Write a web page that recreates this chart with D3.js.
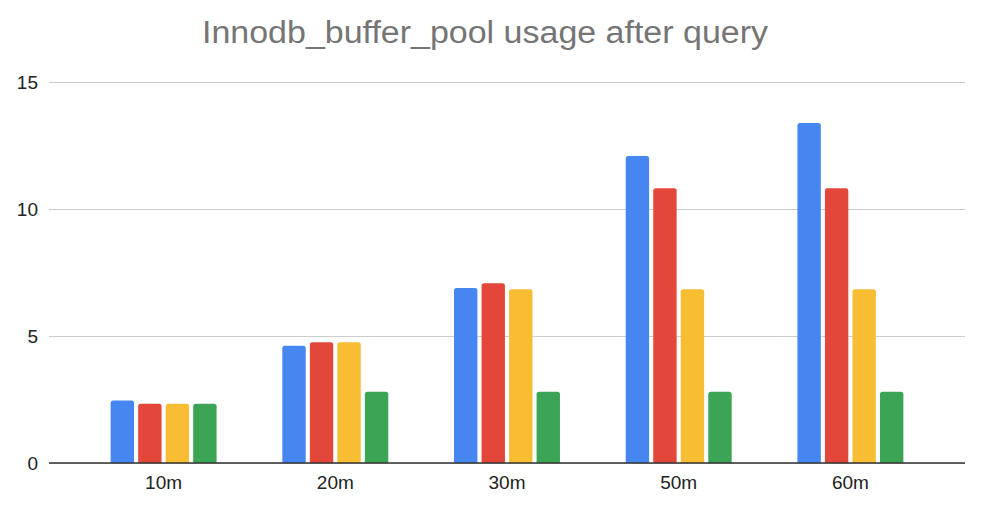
<!DOCTYPE html>
<html>
<head>
<style>
html, body {
    margin: 0;
    padding: 0;
    background: #fff;
    overflow: hidden;
}
text {
    font-family: Arial, "Liberation Sans", sans-serif;
}
</style>
</head>
<body>
<script src="https://cdn.jsdelivr.net/npm/d3@7"></script>
<script>
const width = 985, height = 525;

const categories = ["10m", "20m", "30m", "50m", "60m"];
const seriesNames = ["s1", "s2", "s3", "s4"];
const s1 = [2.46, 4.62, 6.89, 12.09, 13.39];
const s2 = [2.33, 4.75, 7.08, 10.82, 10.82];
const s3 = [2.33, 4.75, 6.84, 6.84, 6.84];
const s4 = [2.33, 2.81, 2.81, 2.81, 2.81];
const colors = ["#4586f0", "#e2473a", "#f7bd33", "#3ca555"];
const yTicks = [0, 5, 10, 15];

const series = [s1, s2, s3, s4];
const rows = categories.map((c, i) => ({
    cat: c,
    vals: series.map((s, j) => ({ key: seriesNames[j], value: s[i], color: colors[j] }))
}));

const margin = { left: 49, right: 20, top: 82, bottom: 62 };

const svg = d3.select("body").append("svg")
    .attr("width", width)
    .attr("height", height);

const y = d3.scaleLinear()
    .domain([0, 15])
    .range([height - margin.bottom, margin.top]);

const x0 = d3.scaleBand()
    .domain(categories)
    .range([margin.left, width - margin.right])
    .paddingInner(0.383)
    .paddingOuter(0.359);

const x1 = d3.scaleBand()
    .domain(seriesNames)
    .range([0, x0.bandwidth()])
    .paddingInner(0.15);

// title
svg.append("text")
    .attr("x", 485)
    .attr("y", 43)
    .attr("text-anchor", "middle")
    .attr("fill", "#757575")
    .attr("textLength", 566)
    .attr("lengthAdjust", "spacingAndGlyphs")
    .style("font-size", "31px")
    .text("Innodb_buffer_pool usage after query");

// gridlines + y labels
const yAxis = svg.append("g")
    .attr("transform", `translate(${margin.left},0)`)
    .call(d3.axisLeft(y).tickValues(yTicks).tickSize(-(width - margin.left - margin.right)).tickPadding(11));
yAxis.select(".domain").remove();
yAxis.selectAll(".tick line").attr("stroke", "#cccccc");
yAxis.selectAll(".tick text")
    .attr("fill", "#222")
    .style("font-size", "19px");

// bars, rounded on top
const barPath = (x, yTop, w, yBase) => {
    const r = Math.min(2.5, yBase - yTop);
    return `M${x},${yBase}V${yTop + r}Q${x},${yTop} ${x + r},${yTop}H${x + w - r}Q${x + w},${yTop} ${x + w},${yTop + r}V${yBase}Z`;
};

svg.append("g")
    .selectAll("g")
    .data(rows)
    .join("g")
        .attr("transform", d => `translate(${x0(d.cat)},0)`)
    .selectAll("path")
    .data(d => d.vals)
    .join("path")
        .attr("fill", d => d.color)
        .attr("d", d => barPath(x1(d.key), y(d.value), x1.bandwidth(), y(0)));

// x axis
const xAxis = svg.append("g")
    .attr("transform", `translate(0,${y(0)})`)
    .call(d3.axisBottom(x0).tickSize(0).tickPadding(13));
xAxis.select(".domain")
    .attr("stroke", "#333")
    .attr("stroke-width", 1.3)
    .attr("d", `M${margin.left},0H${width - margin.right}`);
xAxis.selectAll(".tick text")
    .attr("fill", "#222")
    .style("font-size", "19px");
</script>
</body>
</html>
